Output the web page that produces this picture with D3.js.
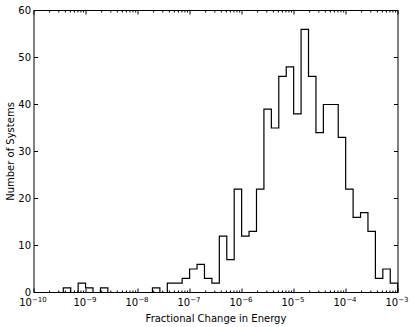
<!DOCTYPE html>
<html>
<head>
<meta charset="utf-8">
<script src="https://cdn.jsdelivr.net/npm/d3@7"></script>
<style>
  html, body { margin: 0; padding: 0; background: #fff; }
  svg { display: block; }
  text { font-family: "DejaVu Sans", sans-serif; fill: #000; }
</style>
</head>
<body>
<svg id="chart" width="415" height="327"></svg>
<script>
// ---- data ----
const binLogMin = -9.437;   // log10 of first bin's left edge
const binLogMax = -3.006;   // log10 of last bin's right edge
const counts = [1, 0, 2, 1, 0, 1, 0, 0, 0, 0, 0, 0, 1, 0, 2, 2, 3, 5, 6, 3, 2, 12, 7, 22, 12, 13, 22,
                39, 35, 46, 48, 38, 56, 46, 34, 40, 40, 33, 22, 16, 17, 13, 3, 5, 2];
const xTickExps = [-10, -9, -8, -7, -6, -5, -4, -3];
const yTicks = [0, 10, 20, 30, 40, 50, 60];
const xTitle = "Fractional Change in Energy";
const yTitle = "Number of Systems";

// ---- layout ----
const L = 34, R = 398, T = 10.5, B = 292.5;
const svg = d3.select("#chart");
const x = d3.scaleLog().domain([1e-10, 1e-3]).range([L, R]);
const y = d3.scaleLinear().domain([0, 60]).range([B, T]);

// bin edges (log-spaced)
const nb = counts.length;
const edges = d3.range(nb + 1).map(i => Math.pow(10, binLogMin + (binLogMax - binLogMin) * i / nb));

// step outline
const pts = [[edges[0], 0]];
counts.forEach((c, i) => { pts.push([edges[i], c]); pts.push([edges[i + 1], c]); });
pts.push([edges[nb], 0]);
const line = d3.line().x(d => x(d[0])).y(d => y(d[1]));
svg.append("path").attr("d", line(pts)).attr("fill", "none")
  .attr("stroke", "#000").attr("stroke-width", 1.2).attr("stroke-linejoin", "miter");

// ticks
const g = svg.append("g").attr("stroke", "#000").attr("stroke-width", 1);
const minor = [];
xTickExps.slice(0, -1).forEach(e => { for (let k = 2; k <= 9; k++) minor.push(k * Math.pow(10, e)); });
const major = xTickExps.map(e => Math.pow(10, e));
major.forEach(v => {
  g.append("line").attr("x1", x(v)).attr("x2", x(v)).attr("y1", B).attr("y2", B - 4);
  g.append("line").attr("x1", x(v)).attr("x2", x(v)).attr("y1", T).attr("y2", T + 4);
});
minor.forEach(v => {
  g.append("line").attr("x1", x(v)).attr("x2", x(v)).attr("y1", B).attr("y2", B - 2);
  g.append("line").attr("x1", x(v)).attr("x2", x(v)).attr("y1", T).attr("y2", T + 2);
});
yTicks.forEach(v => {
  g.append("line").attr("x1", L).attr("x2", L + 4).attr("y1", y(v)).attr("y2", y(v));
  g.append("line").attr("x1", R).attr("x2", R - 4).attr("y1", y(v)).attr("y2", y(v));
});

// frame
svg.append("rect").attr("x", L).attr("y", T).attr("width", R - L).attr("height", B - T)
  .attr("fill", "none").attr("stroke", "#000").attr("stroke-width", 1);

// y tick labels
yTicks.forEach(v => {
  svg.append("text").attr("x", L - 3).attr("y", y(v) + 3.5)
    .attr("text-anchor", "end").attr("font-size", 10).text(v);
});

// x tick labels
xTickExps.forEach(e => {
  const t = svg.append("text").attr("x", x(Math.pow(10, e)) - 1).attr("y", 306)
    .attr("text-anchor", "middle").attr("font-size", 10);
  t.append("tspan").text("10");
  t.append("tspan").attr("dy", -4.5).attr("font-size", 7).text("\u2212" + Math.abs(e));
});

// axis titles
svg.append("text").attr("x", (L + R) / 2).attr("y", 322).attr("text-anchor", "middle")
  .attr("font-size", 10).text(xTitle);
svg.append("text").attr("transform", `translate(14,${(T + B) / 2}) rotate(-90)`)
  .attr("text-anchor", "middle").attr("font-size", 10).text(yTitle);
</script>
</body>
</html>
